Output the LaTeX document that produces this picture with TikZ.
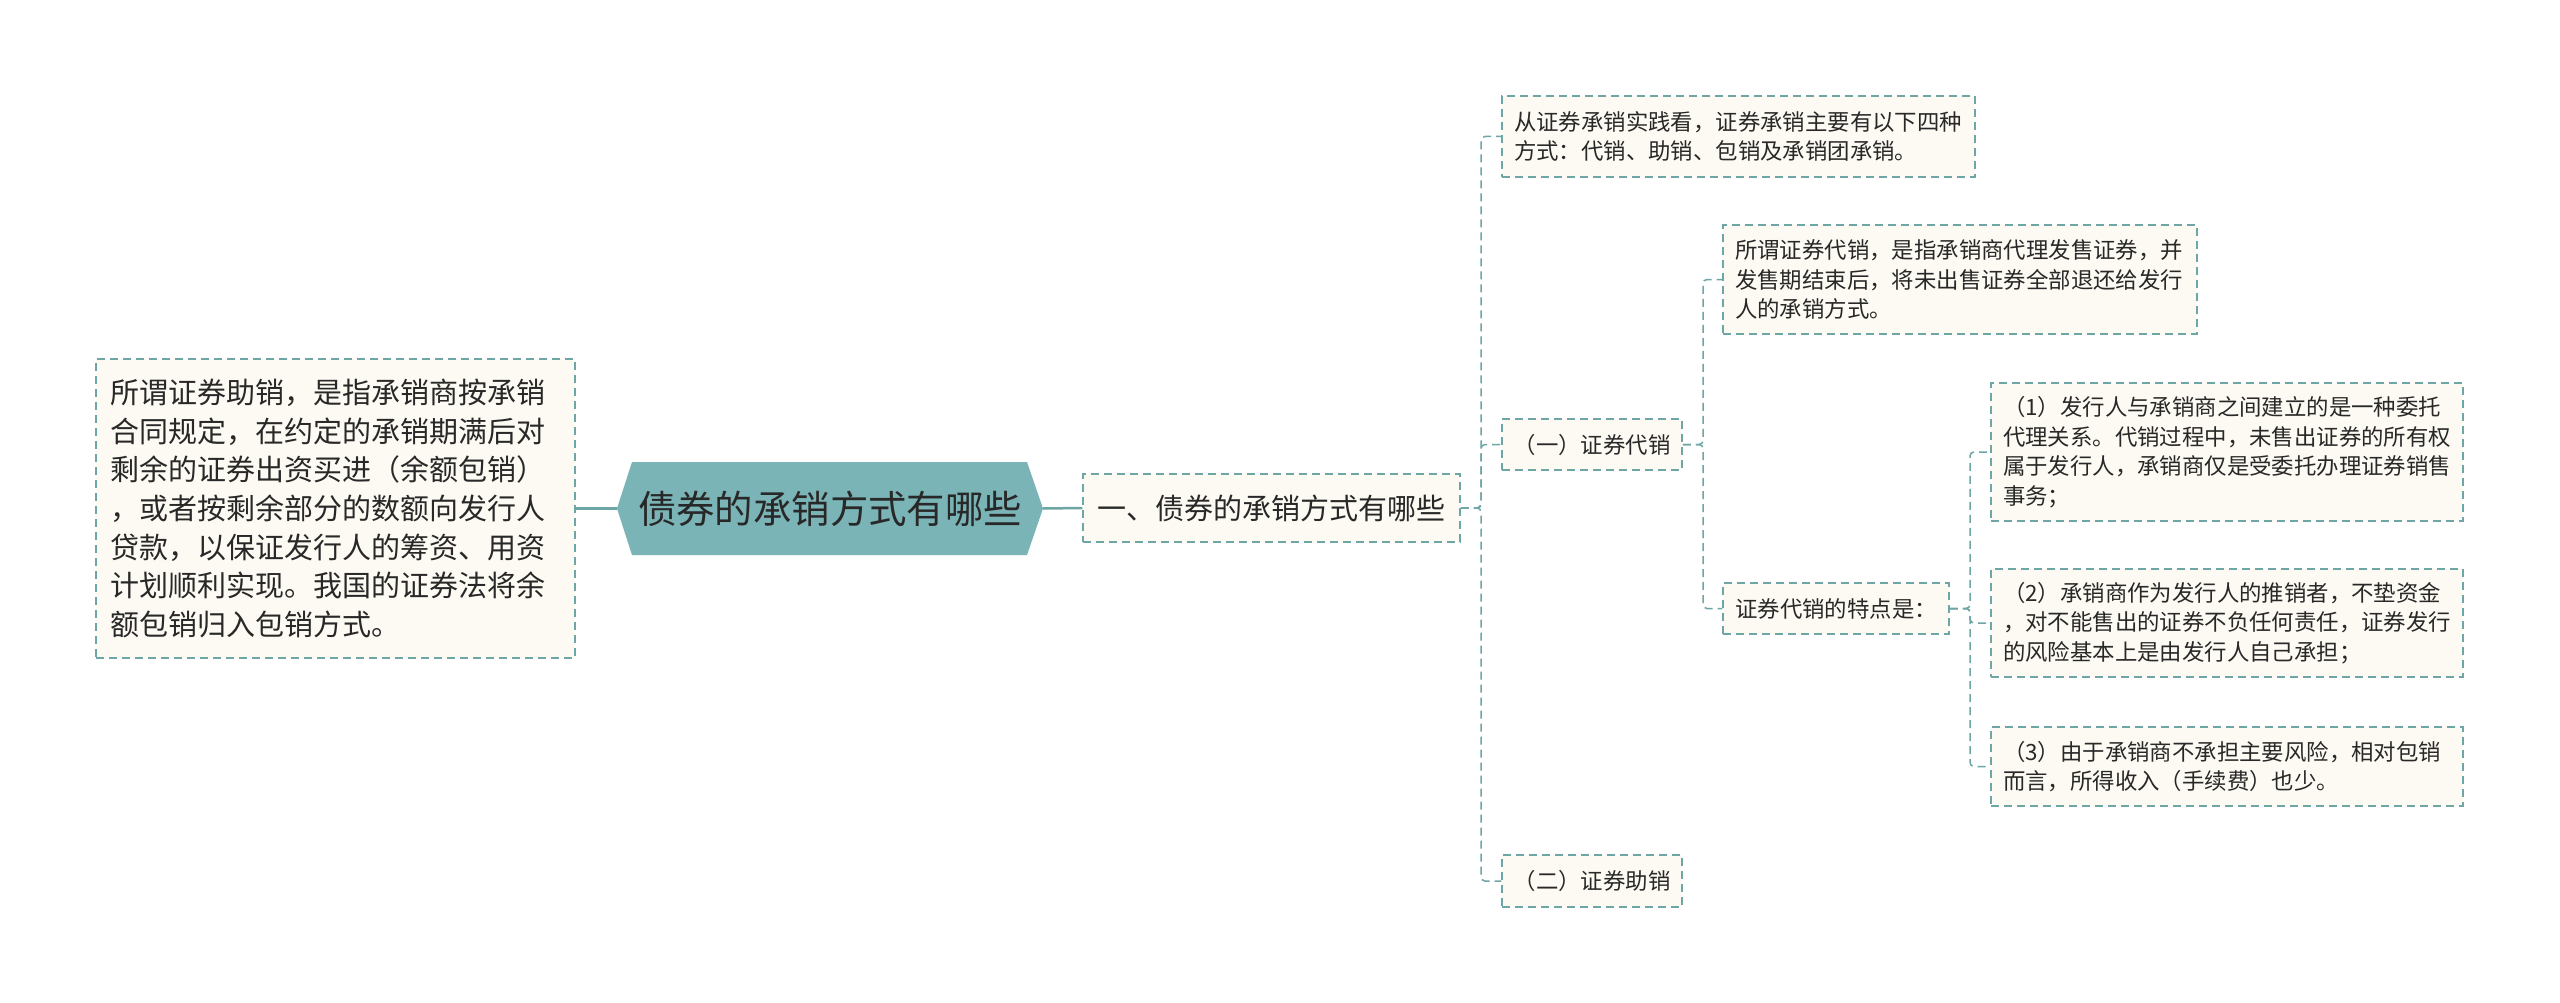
\documentclass[tikz,border=0pt]{standalone}
\usepackage{fontspec}
\newfontfamily\cjk{Noto Sans CJK SC}
\definecolor{lc}{RGB}{110,165,165}
\definecolor{rootfill}{RGB}{123,180,182}
\definecolor{bf}{RGB}{252,250,242}
\definecolor{tc}{RGB}{40,40,40}
\tikzset{
  base/.style={draw=lc, line width=1.5pt, dash pattern=on 8pt off 5pt, fill=bf, text=tc, inner ysep=0pt},
  mbox/.style={base, inner xsep=12pt, align=left, font=\cjk\fontsize{22.4}{29.5}\selectfont},
  sbox/.style={base, inner xsep=0pt, align=center, font=\cjk\fontsize{22.4}{29.5}\selectfont},
  conn/.style={draw=lc, line width=1.5pt, dash pattern=on 8pt off 5pt, rounded corners=4pt},
  solidc/.style={draw=lc, line width=2.5pt}
}
\begin{document}
\begin{tikzpicture}[x=1pt, y=-1pt]
\useasboundingbox (0,0) rectangle (2560,1003);
\fill[white] (0,0) rectangle (2560,1003);

% root hexagon
\fill[rootfill] (632,462) -- (1027,462) -- (1043,508.5) -- (1027,555) -- (632,555) -- (617,508.5) -- cycle;
\node[minimum width=426pt, minimum height=93pt, inner sep=0pt, text=tc, font=\cjk\fontsize{38.4}{44}\selectfont] (root) at (830,508.5) {债券的承销方式有哪些};

% left box
\node[base, inner xsep=14pt, text width=451pt, minimum height=299pt, align=left, font=\cjk\fontsize{29}{38.7}\selectfont] (lb) at (335.5,508.5)
{所谓证券助销，是指承销商按承销\\合同规定，在约定的承销期满后对\\剩余的证券出资买进（余额包销）\\，或者按剩余部分的数额向发行人\\贷款，以保证发行人的筹资、用资\\计划顺利实现。我国的证券法将余\\额包销归入包销方式。};

% level 1
\node[base, inner xsep=0pt, minimum width=377pt, minimum height=68pt, font=\cjk\fontsize{29}{34}\selectfont] (l1) at (1271.5,508) {一、债券的承销方式有哪些};

% level 2
\node[mbox, text width=449pt, minimum height=81pt] (t1) at (1738.5,136.5)
{从证券承销实践看，证券承销主要有以下四种\\方式：代销、助销、包销及承销团承销。};
\node[sbox, minimum width=180pt, minimum height=51pt] (dx) at (1592,444.5) {（一）证券代销};
\node[sbox, minimum width=180pt, minimum height=52pt] (zx) at (1592,881) {（二）证券助销};

% level 3
\node[mbox, text width=450pt, minimum height=109pt] (sm) at (1960,279.5)
{所谓证券代销，是指承销商代理发售证券，并\\发售期结束后，将未出售证券全部退还给发行\\人的承销方式。};
\node[sbox, minimum width=226pt, minimum height=51pt] (td) at (1836,608.5) {证券代销的特点是：};

% level 4
\node[mbox, text width=448pt, minimum height=138pt] (p1) at (2227,452)
{（1）发行人与承销商之间建立的是一种委托\\代理关系。代销过程中，未售出证券的所有权\\属于发行人，承销商仅是受委托办理证券销售\\事务；};
\node[mbox, text width=448pt, minimum height=108pt] (p2) at (2227,623)
{（2）承销商作为发行人的推销者，不垫资金\\，对不能售出的证券不负任何责任，证券发行\\的风险基本上是由发行人自己承担；};
\node[mbox, text width=448pt, minimum height=79pt] (p3) at (2227,766.5)
{（3）由于承销商不承担主要风险，相对包销\\而言，所得收入（手续费）也少。};

% connectors
\draw[solidc] (lb.east) -- (root.west);
\draw[solidc] (root.east) -- (l1.west);

\coordinate (v1) at (1481,508);
\draw[conn] (l1.east) -- (v1) |- (t1.west);
\draw[conn] (l1.east) -- (v1) |- (dx.west);
\draw[conn] (l1.east) -- (v1) |- (zx.west);

\coordinate (v2) at (1703,444.5);
\draw[conn] (dx.east) -- (v2) |- (sm.west);
\draw[conn] (dx.east) -- (v2) |- (td.west);

\coordinate (v3) at (1970,608.5);
\draw[conn] (td.east) -- (v3) |- (p1.west);
\draw[conn] (td.east) -- (v3) |- (p2.west);
\draw[conn] (td.east) -- (v3) |- (p3.west);
\end{tikzpicture}
\end{document}
